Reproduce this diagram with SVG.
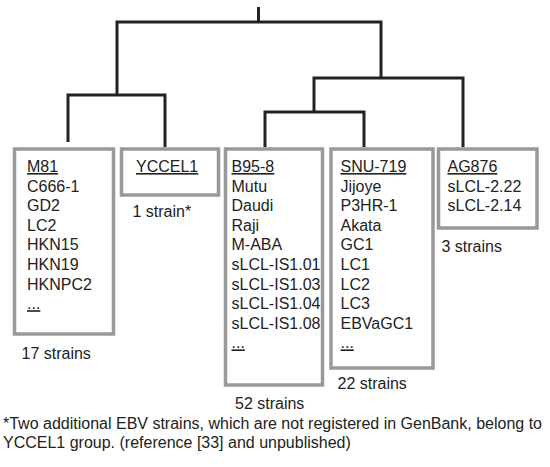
<svg xmlns="http://www.w3.org/2000/svg" width="550" height="467" viewBox="0 0 550 467">
<style>
.t{font-family:"Liberation Sans",Arial,sans-serif;font-size:16px;fill:#222}
.u{text-decoration:underline}
.box{fill:#fff;stroke:#999;stroke-width:3.5}
.br{fill:none;stroke:#222;stroke-width:3;stroke-linejoin:miter;stroke-linecap:butt}
</style>
<rect width="550" height="467" fill="#fff"/>
<g id="connectors">
<path class="br" d="M258.5,7 V22"/>
<path class="br" d="M117,96 V22 H381 V79"/>
<path class="br" d="M68,142 V95 H165 V147"/>
<path class="br" d="M314,113 V78 H463 V147"/>
<path class="br" d="M265,147 V112 H364 V147"/>
</g>
<g id="M81">
<rect class="box" x="14.5" y="149" width="99" height="185"/>
<text class="t" x="27" y="172"><tspan class="u">M81</tspan><tspan x="27" dy="19.6">C666-1</tspan><tspan x="27" dy="19.6">GD2</tspan><tspan x="27" dy="19.6">LC2</tspan><tspan x="27" dy="19.6">HKN15</tspan><tspan x="27" dy="19.6">HKN19</tspan><tspan x="27" dy="19.6">HKNPC2</tspan><tspan x="27" dy="19.6" class="u">...</tspan></text>
<text class="t" x="21.5" y="359">17 strains</text>
</g>
<g id="YCCEL1">
<rect class="box" x="121.5" y="149" width="97" height="46"/>
<text class="t u" x="136" y="172">YCCEL1</text>
<text class="t" x="132.5" y="217">1 strain*</text>
</g>
<g id="B95-8">
<rect class="box" x="225.5" y="149" width="97" height="236"/>
<text class="t" x="231.5" y="172"><tspan class="u">B95-8</tspan><tspan x="231.5" dy="19.6">Mutu</tspan><tspan x="231.5" dy="19.6">Daudi</tspan><tspan x="231.5" dy="19.6">Raji</tspan><tspan x="231.5" dy="19.6">M-ABA</tspan><tspan x="231.5" dy="19.6">sLCL-IS1.01</tspan><tspan x="231.5" dy="19.6">sLCL-IS1.03</tspan><tspan x="231.5" dy="19.6">sLCL-IS1.04</tspan><tspan x="231.5" dy="19.6">sLCL-IS1.08</tspan><tspan x="231.5" dy="19.6" class="u">...</tspan></text>
<text class="t" x="235" y="408.5">52 strains</text>
</g>
<g id="SNU-719">
<rect class="box" x="331" y="149" width="102" height="219"/>
<text class="t" x="340.5" y="172"><tspan class="u">SNU-719</tspan><tspan x="340.5" dy="19.6">Jijoye</tspan><tspan x="340.5" dy="19.6">P3HR-1</tspan><tspan x="340.5" dy="19.6">Akata</tspan><tspan x="340.5" dy="19.6">GC1</tspan><tspan x="340.5" dy="19.6">LC1</tspan><tspan x="340.5" dy="19.6">LC2</tspan><tspan x="340.5" dy="19.6">LC3</tspan><tspan x="340.5" dy="19.6">EBVaGC1</tspan><tspan x="340.5" dy="19.6" class="u">...</tspan></text>
<text class="t" x="337.5" y="389">22 strains</text>
</g>
<g id="AG876">
<rect class="box" x="438.5" y="149" width="98.5" height="79"/>
<text class="t" x="447.5" y="172"><tspan class="u">AG876</tspan><tspan x="447.5" dy="19.6">sLCL-2.22</tspan><tspan x="447.5" dy="19.6">sLCL-2.14</tspan></text>
<text class="t" x="441.5" y="252">3 strains</text>
</g>
<g id="footnote">
<text class="t" x="3" y="429">*Two additional EBV strains, which are not registered in GenBank, belong to</text>
<text class="t" x="3" y="448">YCCEL1 group. (reference [33] and unpublished)</text>
</g>
</svg>
